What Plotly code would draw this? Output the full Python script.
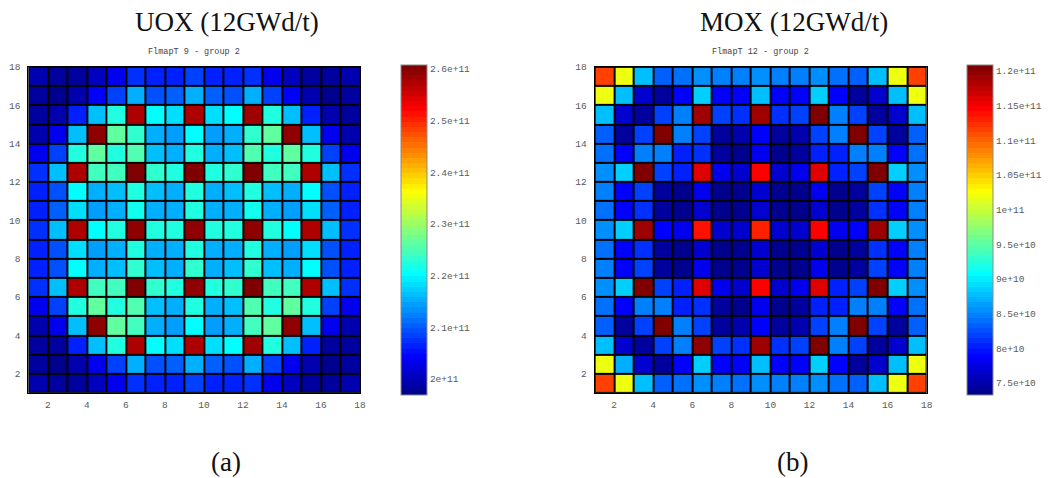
import numpy as np
import plotly.graph_objects as go

# Flux maps (17x17 pin cells), values in units of 1e11, row 0 = bottom row (y 1..2)
SCALE = 1e11

uox_flux = [
    [1.994, 1.984, 1.984, 2.004, 2.034, 2.074, 2.064, 2.064, 2.084, 2.064, 2.064, 2.074, 2.034, 2.004, 1.984, 1.984, 1.994],
    [1.984, 1.974, 1.994, 2.034, 2.084, 2.154, 2.094, 2.104, 2.154, 2.104, 2.094, 2.154, 2.084, 2.034, 1.994, 1.974, 1.984],
    [1.984, 1.984, 2.064, 2.164, 2.224, 2.573, 2.204, 2.184, 2.573, 2.184, 2.204, 2.583, 2.224, 2.164, 2.064, 1.984, 1.984],
    [1.994, 2.034, 2.164, 2.593, 2.264, 2.244, 2.154, 2.144, 2.204, 2.144, 2.154, 2.244, 2.264, 2.593, 2.164, 2.034, 1.994],
    [2.034, 2.084, 2.224, 2.264, 2.224, 2.254, 2.164, 2.154, 2.224, 2.154, 2.164, 2.254, 2.224, 2.264, 2.224, 2.084, 2.034],
    [2.074, 2.164, 2.573, 2.244, 2.244, 2.603, 2.234, 2.224, 2.593, 2.224, 2.234, 2.603, 2.244, 2.244, 2.573, 2.164, 2.074],
    [2.064, 2.094, 2.204, 2.154, 2.164, 2.234, 2.164, 2.154, 2.234, 2.154, 2.164, 2.234, 2.164, 2.154, 2.204, 2.094, 2.064],
    [2.064, 2.094, 2.184, 2.144, 2.154, 2.224, 2.154, 2.154, 2.224, 2.154, 2.154, 2.224, 2.154, 2.144, 2.184, 2.094, 2.064],
    [2.074, 2.164, 2.573, 2.204, 2.224, 2.593, 2.224, 2.224, 2.593, 2.224, 2.224, 2.593, 2.224, 2.204, 2.573, 2.164, 2.074],
    [2.064, 2.104, 2.184, 2.144, 2.154, 2.214, 2.154, 2.154, 2.224, 2.154, 2.154, 2.214, 2.154, 2.144, 2.184, 2.104, 2.064],
    [2.064, 2.094, 2.204, 2.154, 2.164, 2.224, 2.164, 2.154, 2.224, 2.154, 2.164, 2.224, 2.164, 2.154, 2.204, 2.094, 2.064],
    [2.074, 2.164, 2.573, 2.244, 2.244, 2.603, 2.234, 2.224, 2.603, 2.224, 2.234, 2.603, 2.244, 2.244, 2.573, 2.164, 2.074],
    [2.034, 2.084, 2.224, 2.264, 2.224, 2.254, 2.164, 2.154, 2.224, 2.154, 2.164, 2.254, 2.224, 2.264, 2.224, 2.084, 2.034],
    [1.994, 2.034, 2.164, 2.593, 2.264, 2.234, 2.154, 2.144, 2.204, 2.144, 2.154, 2.234, 2.264, 2.593, 2.164, 2.034, 1.994],
    [1.984, 1.994, 2.064, 2.164, 2.224, 2.573, 2.204, 2.184, 2.573, 2.184, 2.204, 2.583, 2.224, 2.164, 2.064, 1.994, 1.984],
    [1.984, 1.974, 1.994, 2.044, 2.084, 2.154, 2.094, 2.104, 2.154, 2.104, 2.094, 2.154, 2.084, 2.044, 1.994, 1.974, 1.984],
    [1.994, 1.984, 1.984, 2.004, 2.034, 2.074, 2.064, 2.064, 2.084, 2.064, 2.064, 2.074, 2.034, 2.004, 1.984, 1.984, 1.994],
]

mox_flux = [
    [1.116, 1.019, 0.878, 0.833, 0.841, 0.856, 0.848, 0.841, 0.856, 0.848, 0.848, 0.856, 0.841, 0.833, 0.878, 1.019, 1.116],
    [1.019, 0.871, 0.766, 0.744, 0.789, 0.886, 0.789, 0.789, 0.878, 0.789, 0.789, 0.886, 0.789, 0.744, 0.766, 0.878, 1.019],
    [0.878, 0.766, 0.744, 0.819, 0.848, 1.198, 0.819, 0.811, 1.190, 0.811, 0.819, 1.205, 0.848, 0.819, 0.744, 0.766, 0.878],
    [0.833, 0.744, 0.819, 1.205, 0.848, 0.819, 0.744, 0.752, 0.789, 0.744, 0.752, 0.819, 0.848, 1.205, 0.819, 0.744, 0.833],
    [0.841, 0.789, 0.848, 0.848, 0.804, 0.811, 0.744, 0.737, 0.781, 0.737, 0.744, 0.804, 0.804, 0.848, 0.848, 0.789, 0.841],
    [0.856, 0.886, 1.205, 0.819, 0.804, 1.161, 0.781, 0.766, 1.146, 0.766, 0.781, 1.161, 0.804, 0.819, 1.205, 0.886, 0.856],
    [0.848, 0.789, 0.819, 0.744, 0.737, 0.781, 0.737, 0.737, 0.766, 0.737, 0.737, 0.781, 0.737, 0.744, 0.819, 0.789, 0.848],
    [0.841, 0.789, 0.811, 0.744, 0.737, 0.766, 0.737, 0.737, 0.766, 0.737, 0.737, 0.766, 0.737, 0.744, 0.811, 0.789, 0.848],
    [0.856, 0.886, 1.190, 0.789, 0.781, 1.138, 0.766, 0.766, 1.131, 0.766, 0.766, 1.146, 0.781, 0.789, 1.190, 0.886, 0.856],
    [0.841, 0.789, 0.811, 0.744, 0.737, 0.766, 0.737, 0.737, 0.766, 0.737, 0.737, 0.766, 0.737, 0.744, 0.811, 0.789, 0.848],
    [0.848, 0.789, 0.819, 0.744, 0.737, 0.781, 0.737, 0.737, 0.766, 0.737, 0.737, 0.781, 0.737, 0.744, 0.819, 0.789, 0.848],
    [0.856, 0.886, 1.205, 0.819, 0.804, 1.161, 0.781, 0.766, 1.146, 0.766, 0.781, 1.161, 0.804, 0.819, 1.205, 0.886, 0.856],
    [0.841, 0.789, 0.848, 0.848, 0.804, 0.811, 0.744, 0.737, 0.781, 0.737, 0.744, 0.804, 0.804, 0.848, 0.848, 0.789, 0.841],
    [0.833, 0.744, 0.819, 1.205, 0.848, 0.819, 0.744, 0.752, 0.789, 0.744, 0.752, 0.819, 0.848, 1.205, 0.819, 0.744, 0.833],
    [0.878, 0.766, 0.744, 0.819, 0.848, 1.190, 0.819, 0.811, 1.190, 0.811, 0.819, 1.205, 0.848, 0.819, 0.744, 0.766, 0.878],
    [1.019, 0.878, 0.766, 0.744, 0.789, 0.886, 0.789, 0.789, 0.878, 0.789, 0.789, 0.886, 0.789, 0.744, 0.766, 0.878, 1.019],
    [1.116, 1.019, 0.878, 0.833, 0.841, 0.856, 0.848, 0.848, 0.856, 0.848, 0.848, 0.856, 0.841, 0.833, 0.878, 1.019, 1.116],
]

# Pin cell centres along x and y
cell_centres = [1.5, 2.5, 3.5, 4.5, 5.5, 6.5, 7.5, 8.5, 9.5, 10.5, 11.5, 12.5, 13.5, 14.5, 15.5, 16.5, 17.5]
axis_ticks = [2, 4, 6, 8, 10, 12, 14, 16, 18]

# Colour ranges and colourbar ticks
uox_range = [1.969e11, 2.608e11]
uox_cb_vals = [2.0e11, 2.1e11, 2.2e11, 2.3e11, 2.4e11, 2.5e11, 2.6e11]
uox_cb_text = ["2e+11", "2.1e+11", "2.2e+11", "2.3e+11", "2.4e+11", "2.5e+11", "2.6e+11"]

mox_range = [0.733e11, 1.209e11]
mox_cb_vals = [7.5e10, 8.0e10, 8.5e10, 9.0e10, 9.5e10, 1.0e11, 1.05e11, 1.1e11, 1.15e11, 1.2e11]
mox_cb_text = ["7.5e+10", "8e+10", "8.5e+10", "9e+10", "9.5e+10", "1e+11", "1.05e+11", "1.1e+11", "1.15e+11", "1.2e+11"]

titles = ["UOX (12GWd/t)", "MOX (12GWd/t)"]
subtitles = ["FlmapT 9 - group 2", "FlmapT 12 - group 2"]
captions = ["(a)", "(b)"]


def jet_steps(m=64):
    """Discrete 64-level jet colour map as a stepped Plotly colorscale."""
    n = m // 4
    u = [i / n for i in range(1, n + 1)] + [1.0] * (n - 1) + [i / n for i in range(n, 0, -1)]
    cols = [[0.0, 0.0, 0.0] for _ in range(m)]
    for j, val in enumerate(u):
        g = n // 2 + j + 1
        for idx, ch in ((g, 1), (g + n, 0), (g - n, 2)):
            if 1 <= idx <= m:
                cols[idx - 1][ch] = val
    scale = []
    for k, c in enumerate(cols):
        rgb = "rgb({},{},{})".format(*[int(round(v * 255)) for v in c])
        scale.append([k / m, rgb])
        scale.append([(k + 1) / m, rgb])
    return scale


W, H = 1052, 478
JET = jet_steps()

plot_top, plot_bottom = 62.5, 392.0
panels = [
    dict(left=28.5, right=362.0, cb_left=403.0, title_x=228, cap_x=227),
    dict(left=598.0, right=932.0, cb_left=973.0, title_x=799, cap_x=797),
]

tick_font = dict(family="Liberation Mono, Courier New, monospace", size=9.5, color="#5a5a5a")
serif_font = dict(family="Liberation Serif, Times New Roman, serif", size=27, color="#111111")

fig = go.Figure()

datasets = [
    (uox_flux, uox_range, uox_cb_vals, uox_cb_text),
    (mox_flux, mox_range, mox_cb_vals, mox_cb_text),
]

y_dom = [1 - plot_bottom / H, 1 - plot_top / H]
cb_len = plot_bottom - plot_top
cb_y = 1 - (plot_top + plot_bottom) / 2 / H

for i, ((flux, zr, cbv, cbt), p) in enumerate(zip(datasets, panels)):
    xa = "x" if i == 0 else "x2"
    ya = "y" if i == 0 else "y2"
    fig.add_trace(go.Heatmap(
        x=cell_centres, y=cell_centres, z=np.array(flux) * SCALE,
        xaxis=xa, yaxis=ya,
        colorscale=JET, zmin=zr[0], zmax=zr[1],
        xgap=2, ygap=2,
        colorbar=dict(
            x=p["cb_left"] / W, xanchor="left", xpad=0, ypad=0,
            y=cb_y, yanchor="middle",
            len=cb_len, lenmode="pixels",
            thickness=26, thicknessmode="pixels",
            outlinecolor="#8a8a8a", outlinewidth=1,
            tickvals=cbv, ticktext=cbt, ticks="", ticklen=0,
            tickfont=tick_font,
        ),
        hoverinfo="skip",
    ))
    axis_common = dict(
        range=[1, 18], tickvals=axis_ticks, ticks="", ticklen=0,
        showgrid=False, zeroline=False, showline=True, linecolor="black",
        linewidth=1, mirror=True, tickfont=tick_font, fixedrange=True,
    )
    fig.update_layout({
        ("xaxis" if i == 0 else "xaxis2"): dict(
            domain=[p["left"] / W, p["right"] / W], anchor=ya,
            ticklabelstandoff=3, **axis_common),
        ("yaxis" if i == 0 else "yaxis2"): dict(
            domain=y_dom, anchor=xa, ticklabelstandoff=5, **axis_common),
    })
    # Panel heading, map name and caption
    fig.add_annotation(x=p["title_x"] / W, y=1 - 17 / H, xref="paper", yref="paper",
                       text=titles[i], showarrow=False, font=serif_font,
                       xanchor="center", yanchor="middle")
    fig.add_annotation(x=(p["left"] + p["right"]) / 2 / W, y=1 - 47 / H,
                       xref="paper", yref="paper", text=subtitles[i], showarrow=False,
                       font=dict(family=tick_font["family"], size=8.5, color="#444444"),
                       xanchor="center", yanchor="middle")
    fig.add_annotation(x=p["cap_x"] / W, y=1 - 462 / H, xref="paper", yref="paper",
                       text=captions[i], showarrow=False, font=serif_font,
                       xanchor="center", yanchor="middle")

fig.update_layout(
    width=W, height=H,
    margin=dict(l=0, r=0, t=0, b=0),
    paper_bgcolor="white", plot_bgcolor="black",
    showlegend=False,
)

fig.write_html("out.html", config={"displayModeBar": False})
